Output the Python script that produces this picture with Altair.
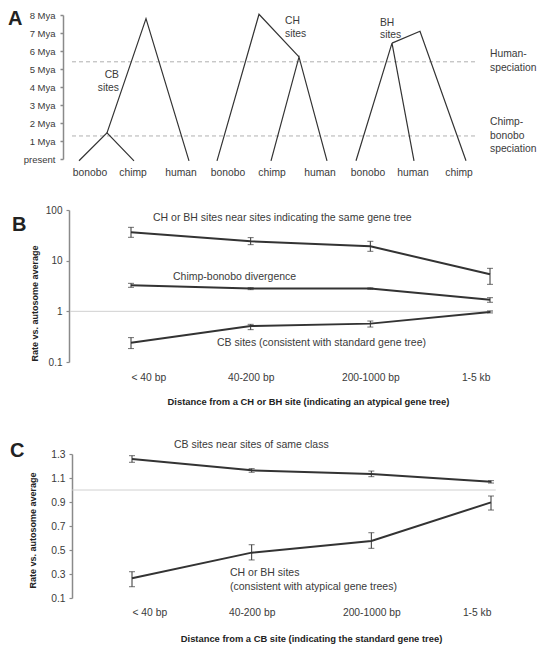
import altair as alt
import pandas as pd

FONT = "Liberation Sans"
INK = "#333333"
TXT = "#3a3a3a"
AXIS_GRAY = "#8a8a8a"
REF_GRAY = "#d0d0d0"

# ---------------- Panel A: gene trees (time in million years) ----------------
mya_ticks = [0, 1, 2, 3, 4, 5, 6, 7, 8]
mya_labels = ["present", "1 Mya", "2 Mya", "3 Mya", "4 Mya", "5 Mya", "6 Mya", "7 Mya", "8 Mya"]

# branch paths: (path id, horizontal layout position, time in Mya)
tree_path = [1, 1, 1, 2, 2, 2, 3, 3, 3, 4, 4, 4, 5, 5, 5, 6, 6, 6]
tree_pos = [71, 99, 126, 99, 138, 181, 209, 251, 291, 263, 291, 319, 348, 384, 406, 384, 412, 458]
tree_mya = [-0.1, 1.45, -0.1, 1.45, 7.8, -0.1, -0.1, 8.04, 5.67, -0.1, 5.67, -0.1,
            -0.1, 6.44, -0.1, 6.44, 7.1, -0.1]

species_names = ["bonobo", "chimp", "human", "bonobo", "chimp", "human", "bonobo", "human", "chimp"]
species_pos = [82, 125, 173, 220, 264, 312, 360, 405, 451]
species_mya = -0.75

site_text = ["CB", "sites", "CH", "sites", "BH", "sites"]
site_pos = [111, 111, 277, 277, 372, 372]
site_mya = [4.67, 3.93, 7.67, 6.94, 7.56, 6.89]
site_align = ["right", "right", "left", "left", "left", "left"]

speciation_mya = [5.4, 1.28]
speciation_from, speciation_to = 64, 467
spec_text = ["Human-", "speciation", "Chimp-", "bonobo", "speciation"]
spec_mya = [5.83, 5.06, 2.06, 1.28, 0.56]
spec_pos = 482

# ---------------- Panel B & C: rate vs distance ----------------
categories = ["< 40 bp", "40-200 bp", "200-1000 bp", "1-5 kb"]
cat_idx = [1, 2, 3, 4]

b_names = ["CH or BH sites near sites indicating the same gene tree",
           "Chimp-bonobo divergence",
           "CB sites (consistent with standard gene tree)"]
b_mid = [[36.3, 24.1, 19.2, 5.4], [3.26, 2.81, 2.81, 1.70], [0.241, 0.513, 0.572, 0.97]]
b_lo = [[28.9, 20.7, 15.3, 3.41], [2.98, 2.68, 2.72, 1.51], [0.184, 0.435, 0.49, 0.93]]
b_hi = [[45.5, 28.5, 24.1, 7.06], [3.57, 2.94, 2.90, 1.86], [0.303, 0.554, 0.644, 1.02]]
b_label_x = [1.184, 1.351, 1.719]
b_label_y = [68.5, 4.69, 0.234]

c_names = ["CB sites near sites of same class", "CH or BH sites"]
c_mid = [[1.258, 1.164, 1.133, 1.069], [0.264, 0.478, 0.575, 0.897]]
c_lo = [[1.231, 1.148, 1.111, 1.058], [0.194, 0.417, 0.514, 0.833]]
c_hi = [[1.286, 1.178, 1.158, 1.078], [0.319, 0.544, 0.644, 0.95]]
c_text = ["CB sites near sites of same class", "CH or BH sites", "(consistent with atypical gene trees)"]
c_label_x = [1.351, 1.819, 1.819]
c_label_y = [1.375, 0.308, 0.192]

ANN = 10.5  # annotation font size in B and C

# ================= build panel A =================
posA = alt.Scale(domain=[0, 544], range=[0, 544])
myaScale = alt.Scale(domain=[0, 8], range=[151, 7], nice=False, zero=False)
yAxisA = alt.Axis(orient="left", offset=-55, values=mya_ticks,
                  labelExpr=str(mya_labels) + "[datum.value]",
                  tickSize=3, labelPadding=5, labelFontSize=9.5, labelColor=TXT,
                  domainColor=AXIS_GRAY, tickColor=AXIS_GRAY, domainWidth=1.5, tickWidth=1.5,
                  grid=False, title=None)

tree_df = pd.DataFrame({"path": tree_path, "pos": tree_pos, "mya": tree_mya,
                        "step": list(range(len(tree_path)))})
trees = alt.Chart(tree_df).mark_line(color=INK, strokeWidth=1.2).encode(
    x=alt.X("pos:Q", scale=posA, axis=None),
    y=alt.Y("mya:Q", scale=myaScale, axis=yAxisA),
    detail="path:N", order="step:Q")

spec_df = pd.DataFrame({"mya": speciation_mya, "x1": speciation_from, "x2": speciation_to})
spec_lines = alt.Chart(spec_df).mark_rule(color="#b0b0b0", strokeDash=[4, 3], strokeWidth=1).encode(
    x=alt.X("x1:Q", scale=posA, axis=None), x2="x2:Q",
    y=alt.Y("mya:Q", scale=myaScale, axis=yAxisA))

sp_df = pd.DataFrame({"name": species_names, "pos": species_pos, "mya": species_mya})
sp_text = alt.Chart(sp_df).mark_text(fontSize=10.3, color=TXT, align="center", baseline="middle").encode(
    x=alt.X("pos:Q", scale=posA, axis=None),
    y=alt.Y("mya:Q", scale=myaScale, axis=yAxisA), text="name:N")

site_df = pd.DataFrame({"t": site_text, "pos": site_pos, "mya": site_mya, "al": site_align})
site_r = alt.Chart(site_df[site_df.al == "right"]).mark_text(
    fontSize=10.3, color=TXT, align="right", baseline="middle").encode(
    x=alt.X("pos:Q", scale=posA, axis=None),
    y=alt.Y("mya:Q", scale=myaScale, axis=yAxisA), text="t:N")
site_l = alt.Chart(site_df[site_df.al == "left"]).mark_text(
    fontSize=10.3, color=TXT, align="left", baseline="middle").encode(
    x=alt.X("pos:Q", scale=posA, axis=None),
    y=alt.Y("mya:Q", scale=myaScale, axis=yAxisA), text="t:N")

spt_df = pd.DataFrame({"t": spec_text, "mya": spec_mya, "pos": spec_pos})
spec_t = alt.Chart(spt_df).mark_text(fontSize=10.3, color=TXT, align="left", baseline="middle").encode(
    x=alt.X("pos:Q", scale=posA, axis=None),
    y=alt.Y("mya:Q", scale=myaScale, axis=yAxisA), text="t:N")

letterA = alt.Chart(pd.DataFrame({"t": ["A"]})).mark_text(
    fontSize=20, fontWeight="bold", color="#222", align="left", baseline="middle").encode(
    x=alt.value(0), y=alt.value(11), text="t:N")

panelA = alt.layer(spec_lines, trees, sp_text, site_r, site_l, spec_t, letterA)

# ================= build panel B =================
cat_expr = str(categories) + "[datum.value-1]"
xB = alt.Scale(domain=[1, 4], range=[123, 482], nice=False, zero=False)
yB = alt.Scale(type="log", domain=[0.1, 100], range=[354, 202], nice=False)
xAxisB = alt.Axis(orient="bottom", offset=-287, values=cat_idx, labelExpr=cat_expr,
                  domain=False, ticks=False, labelPadding=10, labelFontSize=10.3, labelColor=TXT,
                  grid=False, title="Distance from a CH or BH site (indicating an atypical gene tree)",
                  titleFontSize=9.4, titleFontWeight="bold", titleColor="#222",
                  titleX=300, titleY=39, titleAlign="center", titleBaseline="middle")
yAxisB = alt.Axis(orient="left", offset=-61, values=[0.1, 1, 10, 100], format=".1~f",
                  tickSize=3, labelPadding=4, labelFontSize=10, labelColor=TXT,
                  domainColor=AXIS_GRAY, tickColor=AXIS_GRAY, domainWidth=1.5, tickWidth=1.2,
                  grid=False, title="Rate vs. autosome average", titleFontSize=9,
                  titleFontWeight="bold", titleColor="#222", titleX=-35, titleY=295,
                  titleAlign="center", titleBaseline="middle", titleAngle=270)

rowsB = []
for s, nm in enumerate(b_names):
    for i in range(4):
        rowsB.append({"series": nm, "idx": cat_idx[i], "mid": b_mid[s][i],
                      "lo": b_lo[s][i], "hi": b_hi[s][i]})
dfB = pd.DataFrame(rowsB)

refB = alt.Chart(pd.DataFrame({"x1": [0.49], "x2": [4.025], "y": [1]})).mark_rule(
    color=REF_GRAY, strokeWidth=1).encode(
    x=alt.X("x1:Q", scale=xB, axis=xAxisB), x2="x2:Q", y=alt.Y("y:Q", scale=yB, axis=yAxisB))
lineB = alt.Chart(dfB).mark_line(color=INK, strokeWidth=2).encode(
    x=alt.X("idx:Q", scale=xB, axis=xAxisB), y=alt.Y("mid:Q", scale=yB, axis=yAxisB),
    detail="series:N")
errB = alt.Chart(dfB).mark_rule(color=INK, strokeWidth=1).encode(
    x=alt.X("idx:Q", scale=xB, axis=xAxisB), y=alt.Y("lo:Q", scale=yB, axis=yAxisB), y2="hi:Q")
capBlo = alt.Chart(dfB).mark_tick(color=INK, orient="horizontal", size=6, thickness=1).encode(
    x=alt.X("idx:Q", scale=xB, axis=xAxisB), y=alt.Y("lo:Q", scale=yB, axis=yAxisB))
capBhi = alt.Chart(dfB).mark_tick(color=INK, orient="horizontal", size=6, thickness=1).encode(
    x=alt.X("idx:Q", scale=xB, axis=xAxisB), y=alt.Y("hi:Q", scale=yB, axis=yAxisB))
txtB = alt.Chart(pd.DataFrame({"t": b_names, "x": b_label_x, "y": b_label_y})).mark_text(
    fontSize=ANN, color=TXT, align="left", baseline="middle").encode(
    x=alt.X("x:Q", scale=xB, axis=xAxisB), y=alt.Y("y:Q", scale=yB, axis=yAxisB), text="t:N")
letterB = alt.Chart(pd.DataFrame({"t": ["B"]})).mark_text(
    fontSize=20, fontWeight="bold", color="#222", align="left", baseline="middle").encode(
    x=alt.value(4), y=alt.value(217), text="t:N")

panelB = alt.layer(refB, lineB, errB, capBlo, capBhi, txtB, letterB)

# ================= build panel C =================
xC = alt.Scale(domain=[1, 4], range=[124, 483], nice=False, zero=False)
yC = alt.Scale(domain=[0.1, 1.3], range=[590, 446], nice=False, zero=False)
xAxisC = alt.Axis(orient="bottom", offset=-51, values=cat_idx, labelExpr=cat_expr,
                  domain=False, ticks=False, labelPadding=9, labelFontSize=10.3, labelColor=TXT,
                  grid=False, title="Distance from a CB site (indicating the standard gene tree)",
                  titleFontSize=9.4, titleFontWeight="bold", titleColor="#222",
                  titleX=303, titleY=40, titleAlign="center", titleBaseline="middle")
yAxisC = alt.Axis(orient="left", offset=-64, values=[0.1, 0.3, 0.5, 0.7, 0.9, 1.1, 1.3], format=".1f",
                  tickSize=3, labelPadding=4, labelFontSize=10.3, labelColor=TXT,
                  domainColor=AXIS_GRAY, tickColor=AXIS_GRAY, domainWidth=1.5, tickWidth=1.2,
                  grid=False, title="Rate vs. autosome average", titleFontSize=9,
                  titleFontWeight="bold", titleColor="#222", titleX=-40, titleY=522,
                  titleAlign="center", titleBaseline="middle", titleAngle=270)

rowsC = []
for s, nm in enumerate(c_names):
    for i in range(4):
        rowsC.append({"series": nm, "idx": cat_idx[i], "mid": c_mid[s][i],
                      "lo": c_lo[s][i], "hi": c_hi[s][i]})
dfC = pd.DataFrame(rowsC)

refC = alt.Chart(pd.DataFrame({"x1": [0.5], "x2": [4.04], "y": [1.0]})).mark_rule(
    color=REF_GRAY, strokeWidth=1).encode(
    x=alt.X("x1:Q", scale=xC, axis=xAxisC), x2="x2:Q", y=alt.Y("y:Q", scale=yC, axis=yAxisC))
lineC = alt.Chart(dfC).mark_line(color=INK, strokeWidth=2).encode(
    x=alt.X("idx:Q", scale=xC, axis=xAxisC), y=alt.Y("mid:Q", scale=yC, axis=yAxisC),
    detail="series:N")
errC = alt.Chart(dfC).mark_rule(color=INK, strokeWidth=1).encode(
    x=alt.X("idx:Q", scale=xC, axis=xAxisC), y=alt.Y("lo:Q", scale=yC, axis=yAxisC), y2="hi:Q")
capClo = alt.Chart(dfC).mark_tick(color=INK, orient="horizontal", size=6, thickness=1).encode(
    x=alt.X("idx:Q", scale=xC, axis=xAxisC), y=alt.Y("lo:Q", scale=yC, axis=yAxisC))
capChi = alt.Chart(dfC).mark_tick(color=INK, orient="horizontal", size=6, thickness=1).encode(
    x=alt.X("idx:Q", scale=xC, axis=xAxisC), y=alt.Y("hi:Q", scale=yC, axis=yAxisC))
txtC = alt.Chart(pd.DataFrame({"t": c_text, "x": c_label_x, "y": c_label_y})).mark_text(
    fontSize=ANN, color=TXT, align="left", baseline="middle").encode(
    x=alt.X("x:Q", scale=xC, axis=xAxisC), y=alt.Y("y:Q", scale=yC, axis=yAxisC), text="t:N")
letterC = alt.Chart(pd.DataFrame({"t": ["C"]})).mark_text(
    fontSize=20, fontWeight="bold", color="#222", align="left", baseline="middle").encode(
    x=alt.value(2), y=alt.value(443), text="t:N")

panelC = alt.layer(refC, lineC, errC, capClo, capChi, txtC, letterC)

chart = alt.layer(panelA, panelB, panelC).resolve_scale(
    x="independent", y="independent"
).properties(
    width=544, height=641, padding=0,
    autosize=alt.AutoSizeParams(type="none")
).configure(font=FONT).configure_view(stroke=None)

chart.save("out.html", embed_options={"renderer": "svg", "actions": False})
